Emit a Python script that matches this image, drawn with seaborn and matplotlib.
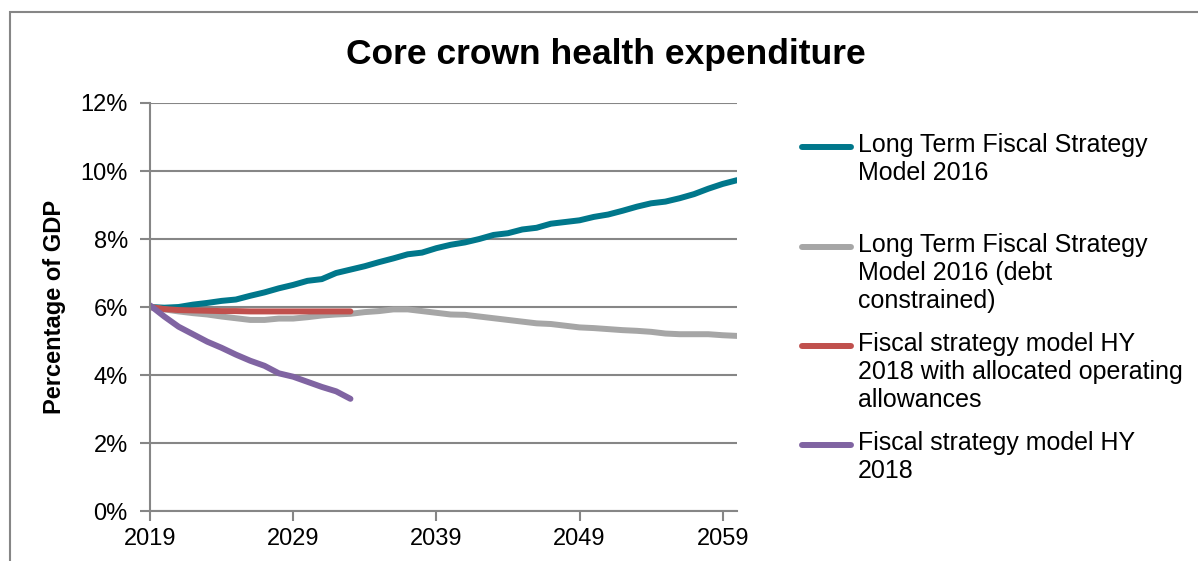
import matplotlib
matplotlib.use('Agg')

import matplotlib.pyplot as plt
import matplotlib.patches as mpatches
from matplotlib.lines import Line2D
from matplotlib.ticker import PercentFormatter
import numpy as np
import pandas as pd
import seaborn as sns

years = list(range(2019, 2061))

ltfs_2016 = [6.00, 5.98, 6.00, 6.07, 6.12, 6.18, 6.22, 6.33, 6.43, 6.55,
             6.65, 6.77, 6.82, 7.00, 7.10, 7.20, 7.32, 7.43, 7.55, 7.60,
             7.73, 7.83, 7.90, 8.00, 8.12, 8.17, 8.28, 8.33, 8.45, 8.50,
             8.55, 8.65, 8.72, 8.83, 8.95, 9.05, 9.10, 9.20, 9.32, 9.48,
             9.62, 9.73]

ltfs_2016_debt = [6.00, 5.93, 5.87, 5.82, 5.78, 5.72, 5.67, 5.62, 5.62, 5.66,
                  5.66, 5.70, 5.75, 5.78, 5.80, 5.85, 5.88, 5.93, 5.93, 5.88,
                  5.83, 5.78, 5.77, 5.72, 5.67, 5.62, 5.57, 5.52, 5.50, 5.45,
                  5.40, 5.38, 5.35, 5.32, 5.30, 5.27, 5.22, 5.20, 5.20, 5.20,
                  5.17, 5.15]

fsm_hy2018_alloc = [6.00, 5.94, 5.91, 5.90, 5.89, 5.88, 5.88, 5.87, 5.87, 5.87,
                    5.87, 5.87, 5.87, 5.87, 5.87]

fsm_hy2018 = [6.05, 5.72, 5.42, 5.20, 4.98, 4.80, 4.60, 4.42, 4.27, 4.05,
              3.95, 3.80, 3.65, 3.52, 3.30]

labels = ['Long Term Fiscal Strategy\nModel 2016',
          'Long Term Fiscal Strategy\nModel 2016 (debt\nconstrained)',
          'Fiscal strategy model HY\n2018 with allocated operating\nallowances',
          'Fiscal strategy model HY\n2018']
colors = ['#00778B', '#A6A6A6', '#C0504D', '#8064A2']
series = [ltfs_2016, ltfs_2016_debt, fsm_hy2018_alloc, fsm_hy2018]

frames = []
for lab, vals in zip(labels, series):
    frames.append(pd.DataFrame({'year': years[:len(vals)], 'value': vals, 'series': lab}))
df = pd.concat(frames, ignore_index=True)

sns.set_style('white')
plt.rcParams['font.family'] = ['Liberation Sans', 'DejaVu Sans']
plt.rcParams['text.color'] = 'black'

fig = plt.figure(figsize=(11.98, 5.61), dpi=100)
ax = fig.add_axes([0.1252, 0.0891, 0.4900, 0.7273])

sns.lineplot(data=df, x='year', y='value', hue='series', hue_order=labels,
             palette=dict(zip(labels, colors)), linewidth=4.3, ax=ax,
             legend=False, sort=False)

ax.set_xlim(2019, 2060)
ax.set_ylim(0, 12)
ax.set_xticks([2019, 2029, 2039, 2049, 2059])
ax.set_yticks(np.arange(0, 13, 2))
ax.yaxis.set_major_formatter(PercentFormatter(decimals=0))
ax.grid(axis='y', color='#868686', linewidth=1.5)
ax.set_axisbelow(True)
for side in ['top', 'right']:
    ax.spines[side].set_visible(False)
for side in ['left', 'bottom']:
    ax.spines[side].set_color('#868686')
    ax.spines[side].set_linewidth(1.5)
ax.tick_params(axis='both', which='both', direction='out', length=7, width=1.5,
               color='#868686', labelsize=17, labelcolor='black',
               left=True, bottom=True)
ax.tick_params(axis='y', pad=9)
ax.tick_params(axis='x', pad=5)
ax.set_xlabel('')
ax.set_ylabel('Percentage of GDP', fontsize=17, fontweight='bold', color='black')
ax.yaxis.set_label_coords(-0.143, 0.5)

fig.text(0.506, 0.902, 'Core crown health expenditure', ha='center', va='center',
         fontsize=25.5, fontweight='bold')

# legend drawn by hand so the handle sits on the first text line
entry_y = [147, 247, 346, 445]
for lab, col, yy in zip(labels, colors, entry_y):
    yf = 1 - yy / 561
    fig.add_artist(Line2D([802 / 1198, 851 / 1198], [yf, yf], color=col,
                          linewidth=4.3, transform=fig.transFigure))
    fig.text(858 / 1198, 1 - (yy - 14) / 561, lab, ha='left', va='top',
             fontsize=18, linespacing=1.2)

fig.add_artist(mpatches.Rectangle((10 / 1198, -0.05), 1.2, 1 - 12 / 561 + 0.05,
                                  transform=fig.transFigure, fill=False,
                                  edgecolor='#868686', linewidth=1.5))

fig.savefig('out.png', dpi=100)
